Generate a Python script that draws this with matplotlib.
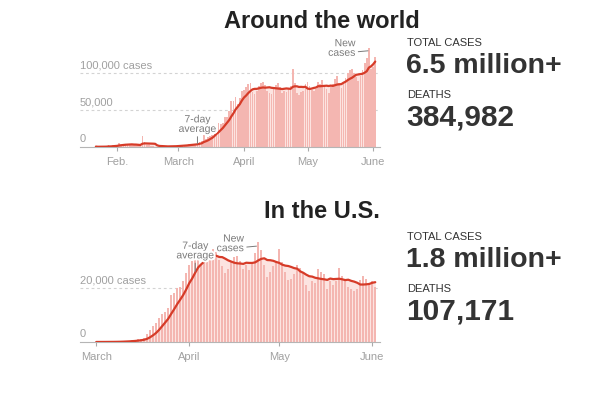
import numpy as np
import pandas as pd
import matplotlib
matplotlib.use('Agg')
import matplotlib.pyplot as plt
import matplotlib.dates as mdates
import matplotlib.transforms as mtrans
import matplotlib.patheffects as pe

# --- data (daily new cases) ---
world_start = '2020-01-22'
world_cases = [
    555, 99, 287, 493, 684, 809, 2651, 589, 2068, 1693,
    2111, 4749, 3094, 4007, 3713, 3160, 3417, 2707, 3093, 2613, 2037, 2022, 15133, 6518,
    2144, 2048, 1891, 1777, 612, 572, 997, 1415, 565, 574, 875, 907, 1240, 1401, 1818,
    1889, 1980, 2495, 2288, 2735, 3993, 3807, 3975, 3997, 4564, 7196, 7450, 16000, 11000,
    13000, 15500, 16500, 24000, 28000, 32000, 31000, 33000, 41000, 41000, 49000, 62000,
    62000, 67000, 58000, 66000, 76000,
    77000, 81000, 85000, 86000, 74000, 71000, 76000, 82000, 86000, 88000, 84000, 76000,
    73000, 71000, 80000, 84000, 86000, 81000, 73000, 76000, 74000, 78000, 82000, 105000,
    86000, 73000, 70000, 75000, 76000, 85000,
    88000, 82000, 77000, 76000, 79000, 88000, 85000, 90000, 84000, 78000, 73000, 83000,
    85000, 92000, 96000, 86000, 80000, 86000, 93000, 100000, 104000, 106000, 100000,
    94000, 89000, 96000, 104000, 114000, 120000, 134000, 106000,
    108000, 122000,
]

us_start = '2020-03-01'
us_cases = [
    10, 20, 25, 30, 70, 80, 110, 120, 180, 290, 400, 450, 620, 700, 980, 1100, 1650,
    2900, 4600, 5800, 6900, 9000, 10500, 11000, 12500, 17500, 18000, 20000, 20500,
    22500, 25500,
    28500, 30000, 33000, 33500, 28500, 29500, 31500, 32500, 34500, 33500, 30500, 28000,
    25500, 27000, 29500, 31500, 32000, 30000, 27000, 28500, 26500, 29500, 33000, 37000,
    34000, 28500, 24000, 26000, 28000, 30000,
    34500, 29500, 26000, 23000, 23500, 25000, 28500, 27500, 26000, 21000, 19000, 22500,
    22000, 27000, 26000, 25000, 19500, 22500, 21000, 22500, 27500, 24500, 23000, 20500,
    19500, 19000, 19500, 23000, 24500, 23500, 21500,
    22500, 20500,
]

world_months = ['2020-02-01', '2020-03-01', '2020-04-01', '2020-05-01', '2020-06-01']
world_month_labels = ['Feb.', 'March', 'April', 'May', 'June']
us_months = ['2020-03-01', '2020-04-01', '2020-05-01', '2020-06-01']
us_month_labels = ['March', 'April', 'May', 'June']

world_yticks = [0, 50000, 100000]
world_ylabels = ['0', '50,000', '100,000 cases']
us_yticks = [0, 20000]
us_ylabels = ['0', '20,000 cases']

BAR = '#f4b6b1'
FILL = '#fce4e1'
LINE = '#d63b28'
GRID = '#d3d3d3'
LABEL = '#a0a0a0'
NOTE = '#7a7a7a'

plt.rcParams['font.family'] = ['Liberation Sans', 'DejaVu Sans']

W, H = 607, 396
fig = plt.figure(figsize=(W / 100, H / 100), dpi=100)


def add_axes(x0, x1, ytop, ybase):
    return fig.add_axes([x0 / W, 1 - ybase / H, (x1 - x0) / W, (ybase - ytop) / H])


def draw(ax, start, cases, ymax, yticks, ylabels, months, mlabels, xlim):
    dates = pd.date_range(start, periods=len(cases))
    s = pd.Series(cases, index=dates, dtype=float)
    avg = s.rolling(7, min_periods=1).mean()
    ax.fill_between(dates, avg.values, color=FILL, lw=0, zorder=1)
    ax.bar(dates, s.values, width=0.8, color=BAR, lw=0, zorder=2)
    ax.plot(dates, avg.values, color=LINE, lw=1.6, solid_capstyle='round', zorder=4)

    ax.set_xlim(pd.Timestamp(xlim[0]), pd.Timestamp(xlim[1]))
    ax.set_ylim(0, ymax)
    for sp in ['top', 'right', 'left']:
        ax.spines[sp].set_visible(False)
    ax.spines['bottom'].set_color('#b5b5b5')
    ax.spines['bottom'].set_linewidth(0.8)
    ax.spines['bottom'].set_zorder(3)
    ax.set_yticks([])
    ax.set_xticks([pd.Timestamp(m) for m in months])
    ax.set_xticklabels(mlabels)
    ax.tick_params(axis='x', length=3, width=0.8, color='#aaaaaa',
                   labelcolor=LABEL, labelsize=8, pad=4)

    tr = mtrans.blended_transform_factory(ax.transAxes, ax.transData)
    tr = mtrans.offset_copy(tr, fig=fig, x=0, y=2, units='points')
    for v, lab in zip(yticks, ylabels):
        if v > 0:
            ax.axhline(v, color=GRID, lw=0.8, ls=(0, (2.5, 2.5)), zorder=0.5)
        ax.text(0, v, lab, transform=tr, ha='left', va='bottom',
                fontsize=8, color=LABEL, zorder=5)
    return dates, avg


halo = [pe.withStroke(linewidth=3, foreground='white')]

# top chart: world
ax1 = add_axes(80, 380, 40, 147)
d1, a1 = draw(ax1, world_start, world_cases, 144600, world_yticks, world_ylabels,
              world_months, world_month_labels, ('2020-01-14 12:00', '2020-06-04 06:00'))
mar10 = pd.Timestamp('2020-03-10')
ax1.annotate('7-day\naverage', xy=(mar10, a1[mar10] + 900), xytext=(0, 7),
             textcoords='offset points', ha='center', va='bottom', fontsize=7.5,
             color=NOTE, linespacing=0.95, path_effects=halo, zorder=6,
             arrowprops=dict(arrowstyle='-', color=NOTE, lw=0.7, shrinkA=0, shrinkB=0))
ax1.annotate('New\ncases', xy=(pd.Timestamp('2020-05-29 14:00'), 130000), xytext=(-9, 2),
             textcoords='offset points', ha='right', va='center', multialignment='right',
             fontsize=7.5, color=NOTE, linespacing=0.95, path_effects=halo, zorder=6,
             arrowprops=dict(arrowstyle='-', color=NOTE, lw=0.7, shrinkA=0, shrinkB=0,
                             relpos=(1, 0.3)))

# bottom chart: U.S.
ax2 = add_axes(80, 380, 230, 342)
d2, a2 = draw(ax2, us_start, us_cases, 41480, us_yticks, us_ylabels,
              us_months, us_month_labels, ('2020-02-24 14:00', '2020-06-03 14:00'))
apr3 = pd.Timestamp('2020-04-03')
ax2.annotate('7-day\naverage', xy=(apr3, a2[apr3] + 400), xytext=(0, 8),
             textcoords='offset points', ha='center', va='bottom', fontsize=7.5,
             color=NOTE, linespacing=0.95, path_effects=halo, zorder=6,
             arrowprops=dict(arrowstyle='-', color=NOTE, lw=0.7, shrinkA=0, shrinkB=0))
ax2.annotate('New\ncases', xy=(pd.Timestamp('2020-04-23 10:00'), 35500), xytext=(-9, 2),
             textcoords='offset points', ha='right', va='center', multialignment='right',
             fontsize=7.5, color=NOTE, linespacing=0.95, path_effects=halo, zorder=6,
             arrowprops=dict(arrowstyle='-', color=NOTE, lw=0.7, shrinkA=0, shrinkB=0,
                             relpos=(1, 0.3)))

# titles
fig.text(322 / W, 1 - 28 / H, 'Around the world', ha='center', va='baseline',
         fontsize=17, fontweight='bold', color='#222222')
fig.text(322 / W, 1 - 218 / H, 'In the U.S.', ha='center', va='baseline',
         fontsize=17, fontweight='bold', color='#222222')

# totals
small = ['Liberation Sans Narrow', 'Liberation Sans']


def totals(y0, cases_txt, deaths_txt):
    fig.text(407 / W, 1 - (y0 + 9) / H, 'TOTAL CASES', ha='left', va='baseline',
             fontsize=8, color='#333333', family=small)
    fig.text(406 / W, 1 - (y0 + 36) / H, cases_txt, ha='left', va='baseline',
             fontsize=20.5, fontweight='bold', color='#333333')
    fig.text(407 / W, 1 - (y0 + 61) / H, 'DEATHS', ha='left', va='baseline',
             fontsize=8, color='#333333', family=small)
    fig.text(406 / W, 1 - (y0 + 88) / H, deaths_txt, ha='left', va='baseline',
             fontsize=21.5, fontweight='bold', color='#333333')


totals(37, '6.5 million+', '384,982')
totals(231, '1.8 million+', '107,171')

fig.savefig('out.png', dpi=100)
